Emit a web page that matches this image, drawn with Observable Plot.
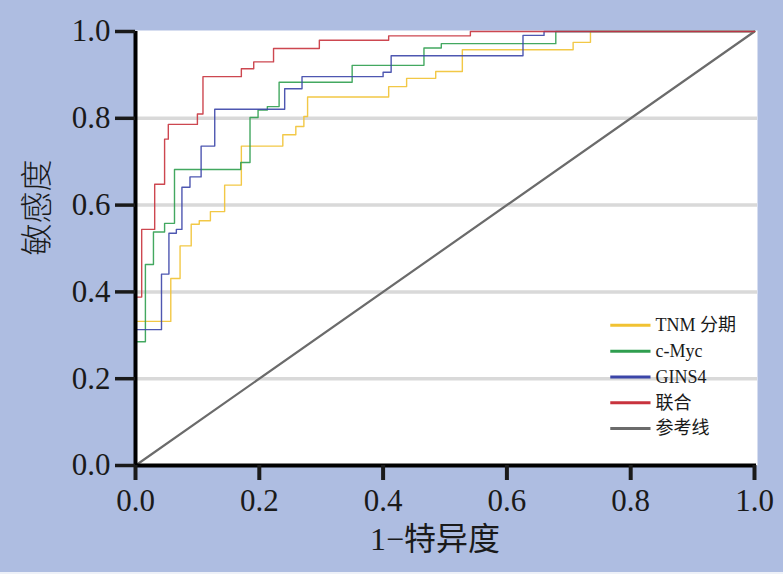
<!DOCTYPE html>
<html>
<head>
<meta charset="utf-8">
<script src="https://cdn.jsdelivr.net/npm/d3@7"></script>
<script src="https://cdn.jsdelivr.net/npm/@observablehq/plot@0.6"></script>
<style>
  html, body { margin: 0; padding: 0; background: #eef1f8; }
  #chart { width: 783px; height: 574px; }
</style>
</head>
<body>
<div id="chart"></div>
<script>
// Series names and colours
const seriesNames = ["TNM 分期", "c-Myc", "GINS4", "联合", "参考线"];
const seriesColors = ["#f1c232", "#2f9e4f", "#3b45a8", "#c8333d", "#6b6b6b"];

// ROC step vertices (1-specificity, sensitivity)
const fprTNM  = [0, 0,     0.057, 0.072, 0.090, 0.103, 0.121, 0.144, 0.171, 0.238, 0.259, 0.272, 0.278, 0.409, 0.438, 0.485, 0.528, 0.707, 0.735, 1];
const tprTNM  = [0, 0.332, 0.431, 0.506, 0.556, 0.564, 0.585, 0.646, 0.736, 0.762, 0.781, 0.804, 0.849, 0.873, 0.892, 0.908, 0.958, 0.975, 1.0,   1];

const fprMyc  = [0, 0,     0.016, 0.029, 0.047, 0.063, 0.170, 0.185, 0.198, 0.213, 0.232, 0.350, 0.466, 0.494, 0.679, 1];
const tprMyc  = [0, 0.285, 0.463, 0.538, 0.558, 0.682, 0.698, 0.802, 0.819, 0.827, 0.883, 0.922, 0.962, 0.972, 1.0,   1];

const fprGINS = [0, 0,     0.042, 0.054, 0.066, 0.075, 0.088, 0.106, 0.128, 0.241, 0.269, 0.400, 0.413, 0.626, 0.660, 1];
const tprGINS = [0, 0.313, 0.441, 0.535, 0.544, 0.641, 0.665, 0.736, 0.821, 0.868, 0.896, 0.906, 0.944, 0.991, 1.0,   1];

const fprComb = [0, 0,     0.010, 0.031, 0.047, 0.053, 0.100, 0.109, 0.171, 0.191, 0.223, 0.297, 0.409, 0.541, 1];
const tprComb = [0, 0.388, 0.544, 0.648, 0.752, 0.786, 0.810, 0.896, 0.914, 0.930, 0.961, 0.980, 0.990, 1.0,   1];

const fprRef = [0, 1];
const tprRef = [0, 1];

const ticks = [0, 0.2, 0.4, 0.6, 0.8, 1.0];
const gridValues = [0.2, 0.4, 0.6, 0.8];

// Build long table
const curves = [
  [seriesNames[0], fprTNM, tprTNM],
  [seriesNames[1], fprMyc, tprMyc],
  [seriesNames[2], fprGINS, tprGINS],
  [seriesNames[3], fprComb, tprComb]
];
const rows = curves.flatMap(([s, xs, ys]) => xs.map((x, i) => ({series: s, x, y: ys[i]})));
const refRows = fprRef.map((x, i) => ({series: seriesNames[4], x, y: tprRef[i]}));

// Legend rows (positions in data units of the plot frame)
const legendRows = seriesNames.map((s, i) => ({series: s, y: 0.323 - i * 0.0595}));

const serif = "'Liberation Serif', 'Times New Roman', serif";
const cjk = "'Liberation Serif', 'Noto Sans CJK SC', serif";

const chart = Plot.plot({
  width: 783,
  height: 572,
  marginLeft: 135,
  marginRight: 29,
  marginTop: 31,
  marginBottom: 107,
  style: {background: "#aebde1", fontFamily: serif, color: "#1a1a1a"},
  x: {domain: [0, 1]},
  y: {domain: [0, 1]},
  color: {domain: seriesNames, range: seriesColors},
  marks: [
    Plot.frame({fill: "white", stroke: "none", insetTop: -1, insetRight: -3}),
    Plot.ruleY(gridValues, {stroke: "#d9d9d9", strokeWidth: 3.5, insetRight: -3}),
    Plot.line(refRows, {x: "x", y: "y", stroke: "series", strokeWidth: 2.2}),
    Plot.line(rows, {x: "x", y: "y", z: "series", stroke: "series", strokeWidth: 1.4, strokeOpacity: 0.9, curve: "step-after"}),
    Plot.link(legendRows, {x1: 0.767, x2: 0.832, y1: "y", y2: "y", stroke: "series", strokeWidth: 3}),
    Plot.text(legendRows, {x: 0.840, y: "y", text: "series", textAnchor: "start", fontSize: 18, fontFamily: cjk, fill: "#1a1a1a"}),
    Plot.ruleX([0], {stroke: "black", strokeWidth: 4, y1: 0, y2: 1}),
    Plot.ruleY([0], {stroke: "black", strokeWidth: 4, x1: 0, x2: 1, insetRight: -2}),
    Plot.axisX({ticks, tickFormat: d3.format(".1f"), tickSize: 15, tickPadding: 8, strokeWidth: 4, fontSize: 31, label: null, fontFamily: serif}),
    Plot.axisY({ticks, tickFormat: d3.format(".1f"), tickSize: 20, tickPadding: 5, strokeWidth: 3.5, fontSize: 31, label: null, fontFamily: serif}),
    Plot.text(["敏感度"], {frameAnchor: "left", rotate: -90, dx: -98, dy: 7, fontSize: 32, fontFamily: "'Noto Sans CJK SC', sans-serif", fontWeight: 300, fill: "#1a1a1a"}),
    Plot.text(["1−特异度"], {frameAnchor: "bottom", dx: -10, dy: 84, fontSize: 32, fontFamily: cjk, fill: "#1a1a1a"})
  ]
});
document.getElementById("chart").appendChild(chart);
</script>
</body>
</html>
